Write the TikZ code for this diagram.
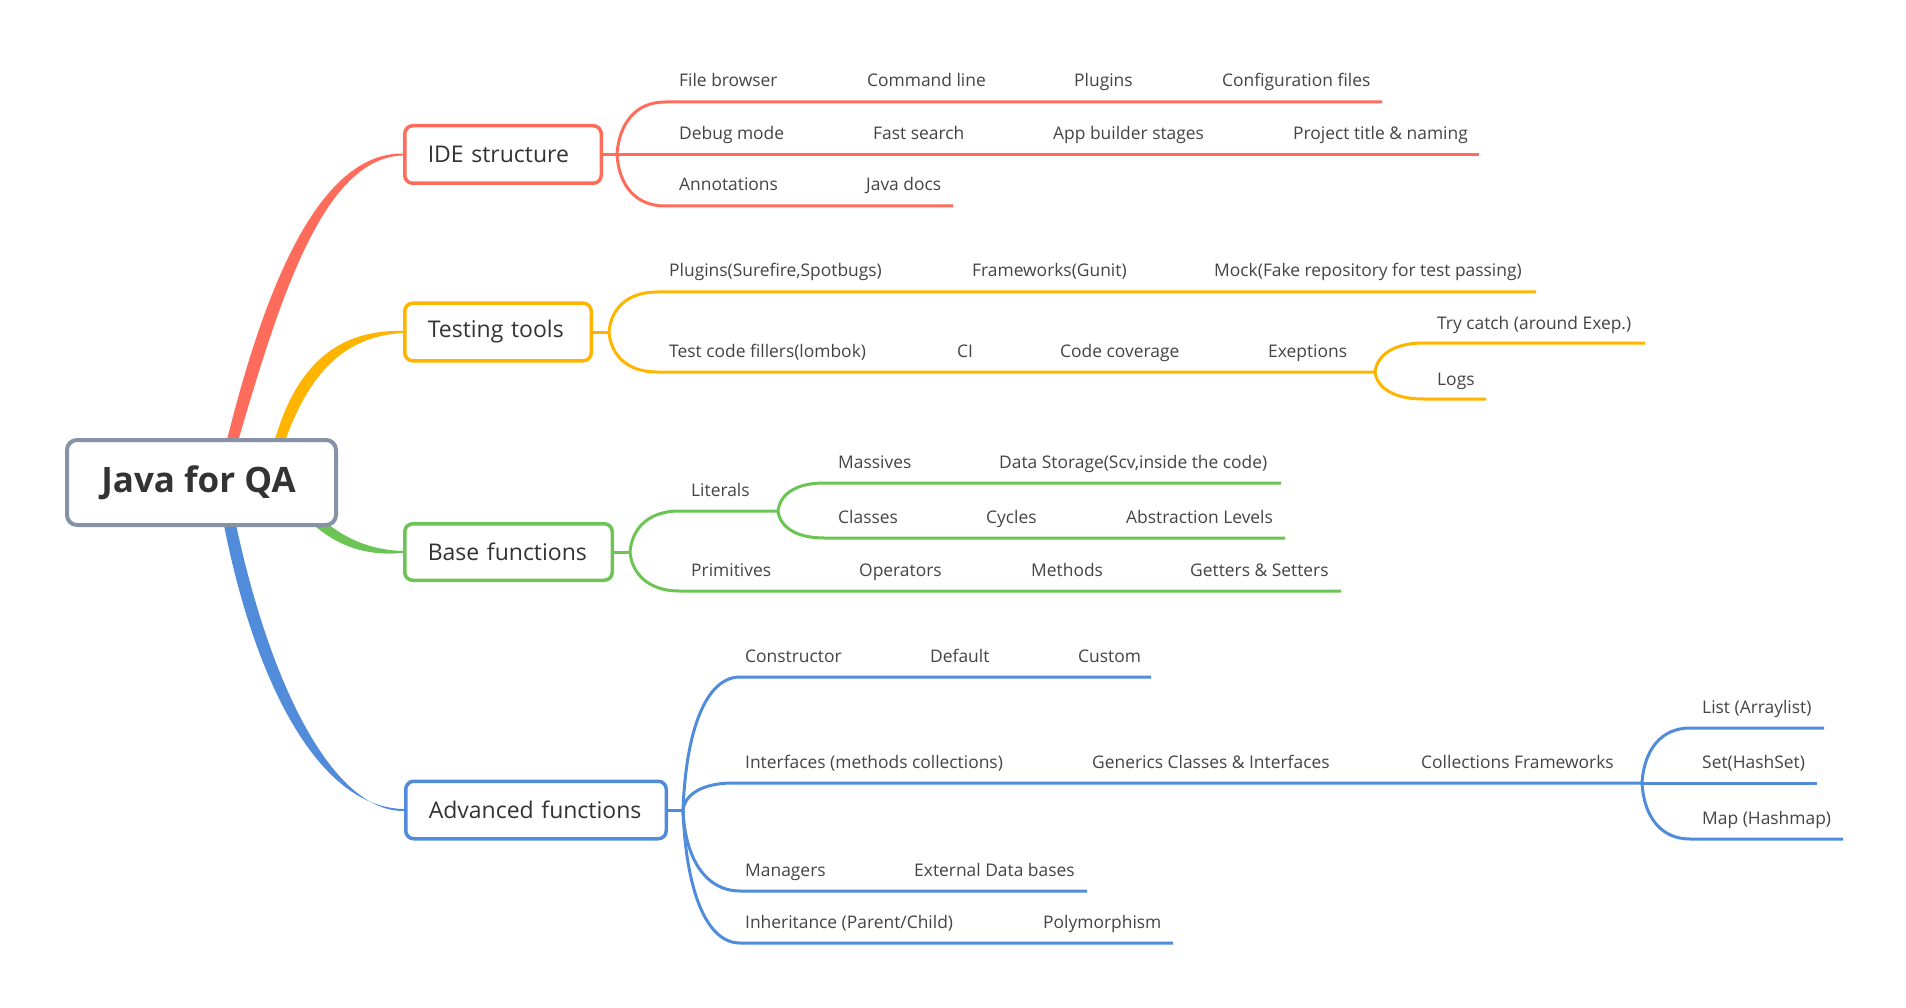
\documentclass[tikz,border=0pt]{standalone}
\usepackage{fontspec}
\setmainfont{Open Sans}
\usetikzlibrary{calc}
\definecolor{cRed}{RGB}{255,108,92}
\definecolor{cYel}{RGB}{255,180,0}
\definecolor{cGrn}{RGB}{108,196,84}
\definecolor{cBlu}{RGB}{80,140,218}
\definecolor{cRoot}{RGB}{134,146,166}
\definecolor{cTxt}{RGB}{51,51,51}
\definecolor{cLbl}{RGB}{68,68,68}
\tikzset{
 lbl/.style={anchor=base west, inner sep=0pt, text=cLbl, font=\fontsize{17.4}{20}\selectfont},
 topic/.style={draw=#1, line width=3.5pt, rounded corners=8pt, fill=white, text=cTxt,
   font=\fontsize{23}{27}\selectfont, inner ysep=0pt, inner xsep=23pt, align=left},
 br/.style={draw=#1, line width=3pt},
}
\begin{document}
\begin{tikzpicture}[x=1pt,y=-1pt]
\useasboundingbox[fill=white] (0,0) rectangle (1906,1008);

% ---------- main tapered connectors ----------
\fill[cRed] (224.5,450) .. controls (261,300) and (315,152.5) .. (403,153.5)
  -- (403,155.5) .. controls (323,157.5) and (279,300) .. (235.5,450) -- cycle;
\fill[cYel] (272,450) .. controls (292,372) and (332,329) .. (403,331)
  -- (403,333) .. controls (340,336) and (305,380) .. (282,450) -- cycle;
\fill[cGrn] (314,512) .. controls (343,540) and (372,550) .. (403,551)
  -- (403,553) .. controls (368,556) and (338,548) .. (308,520) -- cycle;
\fill[cBlu] (222,515) .. controls (255,690) and (322,808) .. (404,809)
  -- (404,811) .. controls (335,812) and (270,690) .. (234,515) -- cycle;

% ---------- nodes ----------
\node[draw=cRoot, line width=4pt, rounded corners=10pt, fill=white, minimum width=269pt,
  minimum height=85pt, text=cTxt, inner sep=0pt,
  font=\bfseries\fontsize{35}{42}\selectfont] (root) at (201.5,482.5) {\hspace*{-6pt}Java for QA};
\node[topic=cRed, text width=150.5pt, minimum height=57.5pt] (ide) at (503,154.5) {\mbox{IDE structure}};
\node[topic=cYel, text width=140.5pt, minimum height=57.5pt] (test) at (498,332) {\mbox{Testing tools}};
\node[topic=cGrn, text width=161.5pt, minimum height=56.5pt] (base) at (508.5,552) {\mbox{Base functions}};
\node[topic=cBlu, text width=214.5pt, minimum height=57.5pt] (adv) at (536,810) {\mbox{Advanced functions}};

% ---------- IDE structure ----------
\coordinate (rf) at (617,154.5);
\draw[br=cRed] (ide.east) -- (rf) -- (1479,154.5);
\draw[br=cRed] (rf) .. controls (619,123) and (636,102) .. (665,102) -- (1382,102);
\draw[br=cRed] (rf) .. controls (619,186) and (636,206) .. (665,206) -- (953,206);
\node[lbl] (i1) at (679,87) {File browser};
\node[lbl] (i2) at (867,87) {Command line};
\node[lbl] (i3) at (1074,87) {Plugins};
\node[lbl] (i4) at (1222,87) {Configuration files};
\node[lbl] (i5) at (679,139.5) {Debug mode};
\node[lbl] (i6) at (873,139.5) {Fast search};
\node[lbl] (i7) at (1053,139.5) {App builder stages};
\node[lbl] (i8) at (1293,139.5) {Project title \& naming};
\node[lbl] (i9) at (679,191) {Annotations};
\node[lbl] (i10) at (866,191) {Java docs};

% ---------- Testing tools ----------
\coordinate (yf) at (609,332);
\coordinate (yf2) at (1375,372);
\draw[br=cYel] (test.east) -- (yf);
\draw[br=cYel] (yf) .. controls (611,308) and (628,292) .. (657,292) -- (1536,292);
\draw[br=cYel] (yf) .. controls (611,356) and (628,372) .. (657,372) -- (yf2);
\draw[br=cYel] (yf2) .. controls (1377,355) and (1394,343) .. (1423,343) -- (1645,343);
\draw[br=cYel] (yf2) .. controls (1377,388) and (1394,399) .. (1423,399) -- (1486,399);
\node[lbl] (t1) at (669,277) {Plugins(Surefire,Spotbugs)};
\node[lbl] (t2) at (972,277) {Frameworks(Gunit)};
\node[lbl] (t3) at (1214,277) {Mock(Fake repository for test passing)};
\node[lbl] (t4) at (669,357) {Test code fillers(lombok)};
\node[lbl] (t5) at (957,357) {CI};
\node[lbl] (t6) at (1060,357) {Code coverage};
\node[lbl] (t7) at (1268,357) {Exeptions};
\node[lbl] (t8) at (1437,329) {Try catch (around Exep.)};
\node[lbl] (t9) at (1437,385) {Logs};

% ---------- Base functions ----------
\coordinate (gf) at (630,552);
\coordinate (gf2) at (778,511);
\draw[br=cGrn] (base.east) -- (gf);
\draw[br=cGrn] (gf) .. controls (632,527) and (650,511) .. (679,511) -- (gf2);
\draw[br=cGrn] (gf) .. controls (632,575) and (650,591) .. (679,591) -- (1341,591);
\draw[br=cGrn] (gf2) .. controls (780,494) and (796,483) .. (824,483) -- (1281,483);
\draw[br=cGrn] (gf2) .. controls (780,527) and (796,538) .. (824,538) -- (1285,538);
\node[lbl] (b1) at (691,496) {Literals};
\node[lbl] (b2) at (838,468) {Massives};
\node[lbl] (b3) at (999,468) {Data Storage(Scv,inside the code)};
\node[lbl] (b4) at (838,523) {Classes};
\node[lbl] (b5) at (986,523) {Cycles};
\node[lbl] (b6) at (1126,523) {Abstraction Levels};
\node[lbl] (b7) at (691,576) {Primitives};
\node[lbl] (b8) at (859,576) {Operators};
\node[lbl] (b9) at (1031,576) {Methods};
\node[lbl] (b10) at (1190,576) {Getters \& Setters};

% ---------- Advanced functions ----------
\coordinate (bf) at (683,810);
\coordinate (bf2) at (1642,783);
\draw[br=cBlu] (adv.east) -- (bf);
\draw[br=cBlu] (bf) .. controls (686,730) and (706,677) .. (740,677) -- (1151,677);
\draw[br=cBlu] (bf) .. controls (685,794) and (703,783) .. (733,783) -- (bf2);
\draw[br=cBlu] (bf) .. controls (685,859) and (706,891) .. (740,891) -- (1087,891);
\draw[br=cBlu] (bf) .. controls (686,890) and (706,943) .. (740,943) -- (1173,943);
\draw[br=cBlu] (bf2) .. controls (1644,750) and (1661,728) .. (1690,728) -- (1824,728);
\draw[br=cBlu] (bf2) -- (1817,783);
\draw[br=cBlu] (bf2) .. controls (1644,817) and (1661,839) .. (1690,839) -- (1843,839);
\node[lbl] (a1) at (745,662) {Constructor};
\node[lbl] (a2) at (930,662) {Default};
\node[lbl] (a3) at (1078,662) {Custom};
\node[lbl] (a4) at (745,768) {Interfaces (methods collections)};
\node[lbl] (a5) at (1092,768) {Generics Classes \& Interfaces};
\node[lbl] (a6) at (1421,768) {Collections Frameworks};
\node[lbl] (a7) at (745,876) {Managers};
\node[lbl] (a8) at (914,876) {External Data bases};
\node[lbl] (a9) at (745,928) {Inheritance (Parent/Child)};
\node[lbl] (a10) at (1043,928) {Polymorphism};
\node[lbl] (a11) at (1702,713) {List (Arraylist)};
\node[lbl] (a12) at (1702,768) {Set(HashSet)};
\node[lbl] (a13) at (1702,824) {Map (Hashmap)};
\end{tikzpicture}
\end{document}
